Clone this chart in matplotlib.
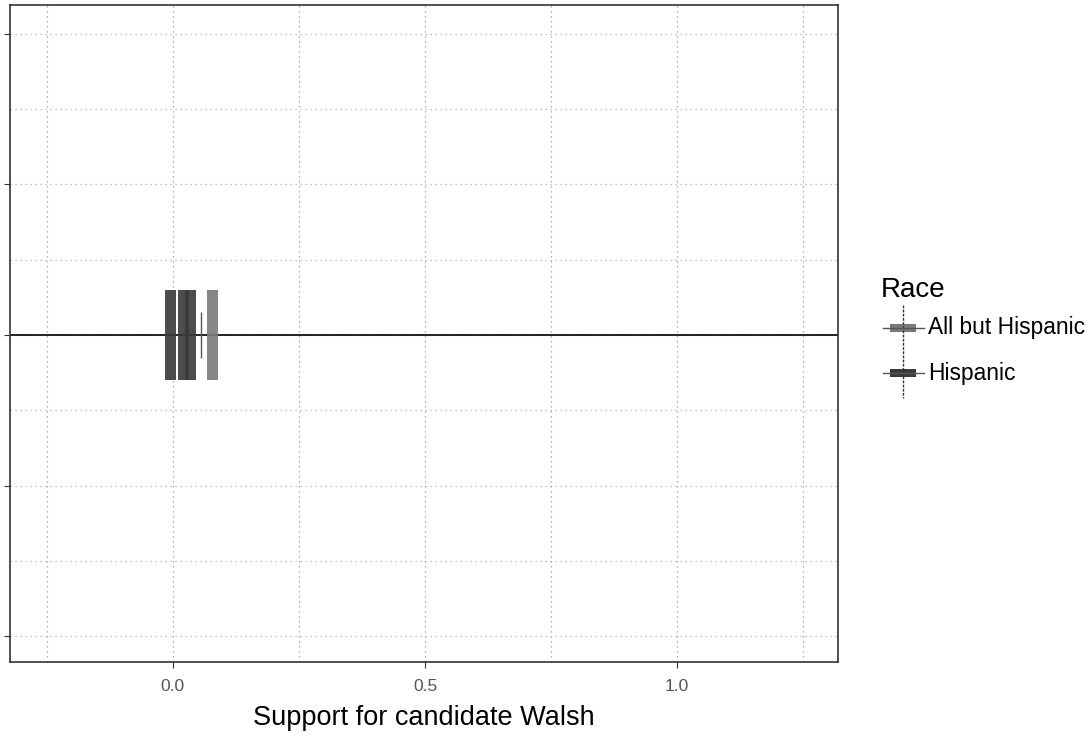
import matplotlib.pyplot as plt
from matplotlib.patches import Rectangle
from matplotlib.lines import Line2D

plt.rcParams['font.family'] = ['Liberation Sans', 'DejaVu Sans']

# group estimates
groups = ['All but Hispanic', 'Hispanic']
cap_lo = [0.035, -0.004]
cap_hi = [0.078, 0.021]
point = [0.056]
fills = ['#7a7a7a', '#3a3a3a']

x_ticks = [0.0, 0.5, 1.0]
x_tick_labels = ['0.0', '0.5', '1.0']
y_ticks = [-2, -1, 0, 1, 2]

fig = plt.figure(figsize=(10.92, 7.42), dpi=100)
ax = fig.add_axes([10 / 1092, 80 / 742, 828 / 1092, 657 / 742])

ax.set_xlim(-0.323, 1.319)
ax.set_ylim(-2.17, 2.19)

# grid (major + minor)
for x in [-0.25, 0.0, 0.25, 0.5, 0.75, 1.0, 1.25]:
    ax.axvline(x, color='#999999', lw=0.9, ls=(0, (1, 3)), zorder=0)
for y in [-2, -1.5, -1, -0.5, 0, 0.5, 1, 1.5, 2]:
    ax.axhline(y, color='#b0b0b0', lw=0.9, ls=(0, (1, 3)), zorder=0)

# reference line across the panel
ax.axhline(0, color='#111111', lw=1.3, zorder=1)

cap_w = 0.022
# inner caps overlap, so both get drawn with some transparency
for lo, hi, col in zip(cap_lo, cap_hi, fills):
    ax.bar(lo, 0.6, width=cap_w, bottom=-0.3, color='#3a3a3a', edgecolor='none', zorder=2, alpha=0.9)
    ax.bar(hi, 0.6, width=cap_w, bottom=-0.3, color=col, edgecolor='none', zorder=2, alpha=0.9)
for pt in point:
    ax.vlines(pt, -0.15, 0.15, color='#555555', lw=1, zorder=3)

ax.set_xticks(x_ticks)
ax.set_xticklabels(x_tick_labels, fontsize=12.5, color='#555555')
ax.set_yticks(y_ticks)
ax.set_yticklabels([])
ax.tick_params(axis='both', length=4, color='#333333')
ax.tick_params(axis='x', pad=8)
ax.set_xlabel('Support for candidate Walsh', fontsize=19.5, labelpad=8)

for s in ax.spines.values():
    s.set_linestyle((0, (3, 1)))
    s.set_color('#333333')
    s.set_linewidth(1.2)

# legend drawn by hand
W, H = 1092, 742
fig.text(881 / W, 1 - 290 / H, 'Race', fontsize=20, va='center', ha='left')
fig.add_artist(Line2D([903 / W, 903 / W], [1 - 305 / H, 1 - 398 / H], color='#333333', lw=1,
                      ls=(0, (2, 1))))
for yk, lab, col in zip([328, 373], groups, fills):
    fig.add_artist(Line2D([883 / W, 924 / W], [1 - yk / H, 1 - yk / H], color='#555555', lw=1))
    fig.add_artist(Rectangle((890 / W, 1 - (yk + 4) / H), 26 / W, 8 / H, transform=fig.transFigure,
                             facecolor=col, edgecolor='none'))
    fig.text(928 / W, 1 - yk / H, lab, fontsize=16.4, va='center', ha='left')

fig.savefig('out.png', dpi=100)
